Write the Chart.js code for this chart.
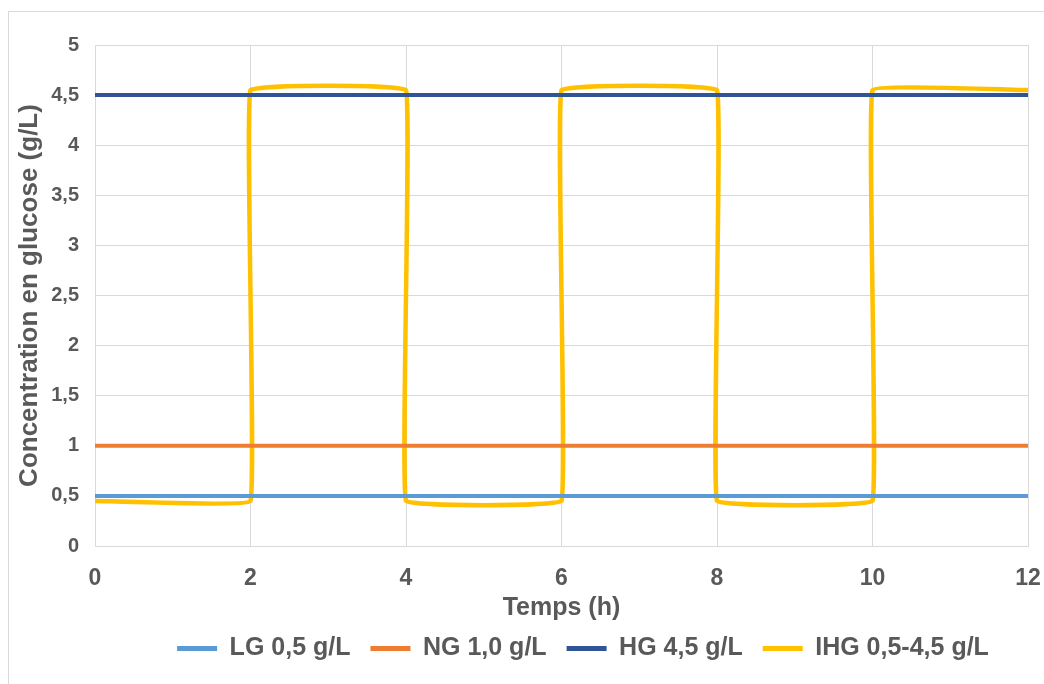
<!DOCTYPE html>
<html>
<head>
<meta charset="utf-8">
<script src="https://cdn.jsdelivr.net/npm/chart.js"></script>
<style>
  body { margin: 0; background: #fff; }
  #cadre { position: absolute; left: 8px; top: 11px; width: 1100px; height: 700px; border: 1px solid #d9d9d9; }
  #zone { position: absolute; left: 0; top: 0; width: 1044px; height: 684px; }
</style>
</head>
<body>
<div id="cadre"></div>
<div id="zone"><canvas id="graphe"></canvas></div>
<script>
// donnees
const tempsConstant = [0, 12];
const lg = [0.5, 0.5];
const ng = [1.0, 1.0];
const hg = [4.5, 4.5];
const tempsIHG = [0, 2, 2, 4, 4, 6, 6, 8, 8, 10, 10, 12];
const ihg = [0.45, 0.45, 4.55, 4.55, 0.45, 0.45, 4.55, 4.55, 0.45, 0.45, 4.55, 4.55];
const nomsSeries = ['LG 0,5 g/L', 'NG 1,0 g/L', 'HG 4,5 g/L', 'IHG 0,5-4,5 g/L'];
const couleurs = ['#5B9BD5', '#ED7D31', '#2F5597', '#FFC000'];

function points(xs, ys) {
    return xs.map((x, i) => ({ x: x, y: ys[i] }));
}

const gris = '#595959';
const police = 'Liberation Sans, Arial, sans-serif';

// decale la legende vers la droite comme dans Excel
const decaleLegende = {
    id: 'decaleLegende',
    beforeDraw(chart) {
        if (chart.legend && !chart.legend._decale) {
            chart.legend.left += 63;
            chart.legend.right += 63;
            chart.legend._decale = true;
        }
    }
};

const ctx = document.getElementById('graphe');
const myChart = new Chart(ctx, {
    type: 'scatter',
    data: {
        datasets: [{
            label: nomsSeries[0],
            data: points(tempsConstant, lg),
            borderColor: couleurs[0],
            backgroundColor: couleurs[0],
            borderWidth: 4
        }, {
            label: nomsSeries[1],
            data: points(tempsConstant, ng),
            borderColor: couleurs[1],
            backgroundColor: couleurs[1],
            borderWidth: 4
        }, {
            label: nomsSeries[2],
            data: points(tempsConstant, hg),
            borderColor: couleurs[2],
            backgroundColor: couleurs[2],
            borderWidth: 4
        }, {
            label: nomsSeries[3],
            data: points(tempsIHG, ihg),
            borderColor: couleurs[3],
            backgroundColor: couleurs[3],
            borderWidth: 4.5,
            tension: 0.05
        }]
    },
    options: {
        responsive: true,
        maintainAspectRatio: false,
        animation: false,
        showLine: true,
        elements: { point: { radius: 0, hoverRadius: 0 } },
        layout: { padding: { left: 12, right: 16, top: 45, bottom: 13 } },
        scales: {
            x: {
                type: 'linear',
                min: 0,
                max: 12,
                afterFit: function (s) { s.height = 70; s.paddingRight = 0; s.paddingLeft = 0; },
                ticks: {
                    stepSize: 2,
                    color: gris,
                    padding: 19,
                    font: { size: 23, family: police, weight: 'bold' }
                },
                grid: { color: '#d9d9d9', drawTicks: false },
                border: { color: '#d9d9d9' },
                title: {
                    display: true,
                    text: 'Temps (h)',
                    color: gris,
                    padding: { top: 0, bottom: -7 },
                    font: { size: 25, family: police, weight: 'bold' }
                }
            },
            y: {
                min: 0,
                max: 5,
                afterFit: function (s) { s.width = 83; },
                ticks: {
                    stepSize: 0.5,
                    color: gris,
                    padding: 16,
                    font: { size: 20, family: police, weight: 'bold' },
                    callback: function (v) { return v.toString().replace('.', ','); }
                },
                grid: { color: '#d9d9d9', drawTicks: false },
                border: { color: '#d9d9d9' },
                title: {
                    display: true,
                    text: 'Concentration en glucose (g/L)',
                    color: gris,
                    padding: { top: 2, bottom: 4 },
                    font: { size: 26, family: police, weight: 'bold' }
                }
            }
        },
        plugins: {
            tooltip: { enabled: false },
            legend: {
                position: 'bottom',
                labels: {
                    boxWidth: 40,
                    boxHeight: 5,
                    padding: 20,
                    color: gris,
                    font: { size: 25, family: police, weight: 'bold' },
                    generateLabels: function (chart) {
                        const items = Chart.defaults.plugins.legend.labels.generateLabels(chart);
                        items.forEach(it => { it.lineWidth = 0; });
                        return items;
                    }
                }
            }
        }
    },
    plugins: [decaleLegende]
});
</script>
</body>
</html>
